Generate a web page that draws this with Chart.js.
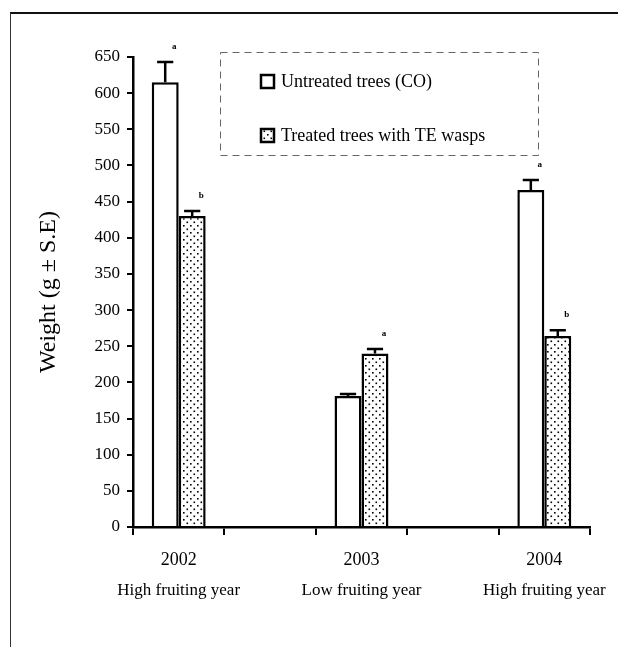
<!DOCTYPE html>
<html>
<head>
<meta charset="utf-8">
<script src="https://cdn.jsdelivr.net/npm/chart.js@4.4.0/dist/chart.umd.min.js"></script>
<style>
  body { margin: 0; background: #fff; }
  #wrap { position: relative; width: 618px; height: 647px; }
  #frame { position: absolute; left: 10px; top: 12px; right: 0; bottom: 0; border-top: 2px solid #111; border-left: 1px solid #333; }
  canvas { position: absolute; left: 0; top: 0; }
</style>
</head>
<body>
<div id="wrap">
  <div id="frame"></div>
  <canvas id="chart" width="618" height="647"></canvas>
</div>
<script>
// data
const years = ['2002', '', '2003', '', '2004'];
const fruiting = ['High fruiting year', '', 'Low fruiting year', '', 'High fruiting year'];
const untreated = [615, null, 181, null, 466];
const treated = [430, null, 240, null, 264];
const untreatedSE = [28, null, 3, null, 14];
const treatedSE = [7, null, 6, null, 8];
const untreatedLetters = ['a', '', '', '', 'a'];
const treatedLetters = ['b', '', 'a', '', 'b'];
const yTicks = [0, 50, 100, 150, 200, 250, 300, 350, 400, 450, 500, 550, 600, 650];

const serif = '"Liberation Serif", "Times New Roman", serif';
const ctx = document.getElementById('chart').getContext('2d');

// dotted fill for the treated bars
function dots() {
  const c = document.createElement('canvas');
  c.width = 7; c.height = 7;
  const g = c.getContext('2d');
  g.fillStyle = '#fff';
  g.fillRect(0, 0, 7, 7);
  g.fillStyle = '#000';
  g.fillRect(1, 1, 1.6, 1.6);
  g.fillRect(4.5, 4.5, 1.6, 1.6);
  return ctx.createPattern(c, 'repeat');
}
const dotFill = dots();

// upper half error bars + letters
const errorBars = {
  id: 'errorBars',
  afterDatasetsDraw(chart) {
    const c = chart.ctx, y = chart.scales.y;
    const se = [untreatedSE, treatedSE];
    const letters = [untreatedLetters, treatedLetters];
    c.save();
    c.strokeStyle = '#000';
    c.lineWidth = 2.5;
    chart.data.datasets.forEach((ds, i) => {
      chart.getDatasetMeta(i).data.forEach((bar, j) => {
        if (ds.data[j] == null) return;
        const top = y.getPixelForValue(ds.data[j] + se[i][j]);
        const half = bar.width * 0.3;
        c.beginPath();
        c.moveTo(bar.x, bar.y);
        c.lineTo(bar.x, top);
        c.moveTo(bar.x - half, top);
        c.lineTo(bar.x + half, top);
        c.stroke();
        if (letters[i][j]) {
          c.fillStyle = '#000';
          c.font = 'bold 9px ' + serif;
          c.textAlign = 'center';
          c.fillText(letters[i][j], bar.x + 9, top - 13);
        }
      });
    });
    c.restore();
  }
};

// boxed legend inside the plot
const boxLegend = {
  id: 'boxLegend',
  afterDraw(chart) {
    const c = chart.ctx;
    c.save();
    c.setLineDash([7, 5]);
    c.strokeStyle = '#666';
    c.lineWidth = 1;
    c.strokeRect(220.5, 52.5, 318, 103);
    c.setLineDash([]);
    chart.data.datasets.forEach((ds, i) => {
      const cy = 81 + i * 54;
      c.fillStyle = ds.backgroundColor;
      c.fillRect(261, cy - 6, 13, 13);
      c.lineWidth = 2.5;
      c.strokeStyle = '#000';
      c.strokeRect(261, cy - 6, 13, 13);
      c.fillStyle = '#000';
      c.font = '18px ' + serif;
      c.textBaseline = 'middle';
      c.fillText(ds.label, 281, cy + 1);
    });
    c.restore();
  }
};

new Chart(ctx, {
  type: 'bar',
  data: {
    labels: years,
    datasets: [{
      label: 'Untreated trees (CO)',
      data: untreated,
      backgroundColor: '#fff',
      borderColor: '#000',
      borderWidth: 2.5,
    }, {
      label: 'Treated trees with TE wasps',
      data: treated,
      backgroundColor: dotFill,
      borderColor: '#000',
      borderWidth: 2.5,
    }]
  },
  options: {
    responsive: false,
    animation: false,
    layout: { padding: { top: 57, right: 28, left: 0, bottom: 0 } },
    datasets: { bar: { categoryPercentage: 0.59, barPercentage: 1 } },
    plugins: {
      legend: { display: false },
      tooltip: { enabled: false },
    },
    scales: {
      x: {
        offset: true,
        grid: { offset: true, drawOnChartArea: false, color: '#000', lineWidth: 2, tickLength: 8 },
        border: { color: '#000', width: 2.5 },
        ticks: { color: '#000', font: { family: serif, size: 18 }, padding: 14, maxRotation: 0, autoSkip: false },
        afterFit: s => { s.height = 45; }
      },
      x2: {
        type: 'category',
        labels: fruiting,
        position: 'bottom',
        offset: true,
        grid: { display: false },
        border: { display: false },
        ticks: { color: '#000', font: { family: serif, size: 17 }, padding: 0, maxRotation: 0, autoSkip: false },
        afterFit: s => { s.height = 75; }
      },
      y: {
        min: 0,
        max: 650,
        afterBuildTicks: s => { s.ticks = yTicks.map(v => ({ value: v })); },
        grid: { drawOnChartArea: false, color: '#000', lineWidth: 2, tickLength: 6 },
        border: { color: '#000', width: 2.5 },
        ticks: { color: '#000', font: { family: serif, size: 17 }, padding: 7 },
        title: {
          display: true,
          text: 'Weight (g ± S.E)',
          color: '#000',
          font: { family: serif, size: 24 },
          padding: { top: 34, bottom: 0 }
        },
        afterFit: s => { s.width = 133; }
      }
    }
  },
  plugins: [errorBars, boxLegend]
});
</script>
</body>
</html>
